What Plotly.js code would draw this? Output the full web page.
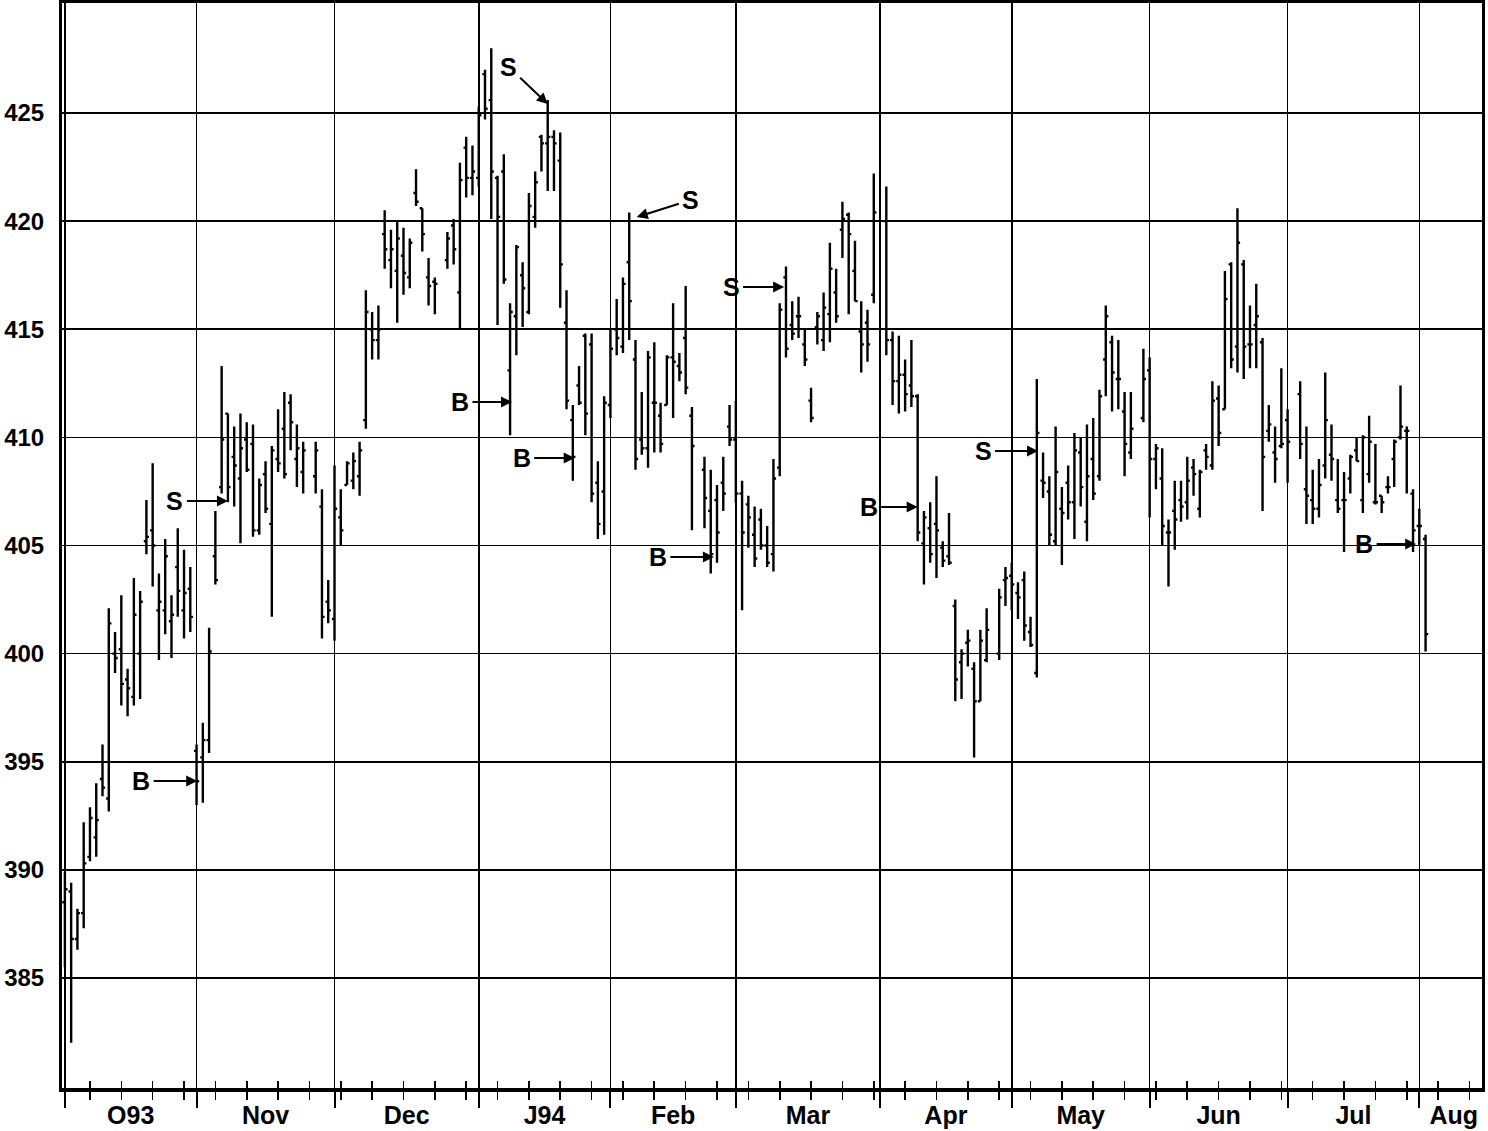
<!DOCTYPE html>
<html>
<head>
<meta charset="utf-8">
<script src="https://cdn.plot.ly/plotly-3.0.1.min.js"></script>
<style>html,body{margin:0;padding:0;background:#fff;}#chart{width:1488px;height:1131px;}</style>
</head>
<body>
<div id="chart"></div>
<script>
// Daily bars, one slot per weekday starting Fri 1 Oct 1993 (null = market closed)
const open = [
  388.5,389.0,386.8,388.0,390.6,391.5,394.2,393.3,400.0,400.2,398.8,398.0,400.0,405.2,405.7,402.0,402.0,401.5,404.0,402.0,403.0,
  395.5,395.2,396.0,404.5,407.7,411.1,409.1,408.1,409.9,409.7,405.7,408.3,406.0,409.0,410.4,411.6,409.0,408.4,null,408.2,406.8,402.4,
  401.6,406.3,407.8,408.0,408.2,410.8,415.0,414.5,419.4,418.2,417.7,418.4,417.4,421.3,420.6,417.4,417.2,null,418.2,419.8,416.7,423.4,422.0,
  422.0,426.8,425.6,422.0,422.3,413.1,415.6,417.5,415.8,420.2,423.9,423.6,423.9,422.8,415.3,410.8,412.4,414.7,414.3,407.9,407.5,
  411.5,415.0,414.2,418.1,413.6,409.9,409.5,411.6,411.0,411.5,413.7,413.3,414.6,411.0,null,408.5,406.6,407.1,407.9,410.5,
  409.9,407.4,406.9,405.5,406.2,405.0,404.6,408.6,417.4,415.2,415.6,414.3,411.7,415.1,414.5,415.7,416.7,419.6,420.3,417.7,414.9,415.3,416.6,
  null,420.0,414.5,412.6,412.9,412.4,411.9,405.1,405.8,406.0,404.9,404.5,402.2,399.6,400.5,399.3,397.8,399.7,null,400.0,403.4,
  403.6,402.8,403.4,401.0,399.1,408.0,407.5,405.2,406.7,407.9,407.0,409.3,406.1,409.0,408.2,413.6,414.4,412.7,411.2,409.3,null,410.9,
  413.1,409.0,408.1,405.6,406.6,407.1,407.0,408.6,406.7,409.4,408.7,411.8,411.3,418.0,414.2,418.0,414.3,415.2,414.4,410.3,409.3,409.6,
  410.8,null,412.0,407.6,407.1,406.7,408.7,409.2,407.1,407.1,408.1,409.4,407.1,408.3,407.0,407.3,407.7,409.0,410.0,410.3,407.4,
  405.9,405.3
];
const high = [
  389.9,389.4,388.2,392.2,392.9,394.0,395.8,402.1,401.0,402.7,399.3,403.5,402.9,407.1,408.8,403.7,405.3,402.7,405.8,404.8,404.0,
  395.8,396.8,401.2,406.6,413.3,411.1,410.5,411.1,410.7,410.6,408.1,408.9,409.6,411.3,412.1,412.0,410.6,409.8,null,409.8,407.6,403.4,
  408.7,407.6,408.9,409.3,409.8,416.8,415.8,416.1,420.5,419.6,420.0,419.7,419.2,422.4,420.6,418.3,417.4,null,419.5,420.1,422.7,423.9,423.5,
  425.3,427.0,428.0,422.1,423.1,416.2,418.9,418.1,421.3,422.3,424.0,425.6,424.2,424.1,416.8,411.5,413.3,414.8,414.8,408.9,411.9,
  415.0,416.4,417.4,420.4,414.5,412.1,414.0,414.4,411.6,413.8,416.2,413.9,417.0,411.4,null,409.1,408.5,407.8,409.1,411.5,
  411.7,408.0,407.3,406.8,406.7,405.9,409.0,416.2,417.9,416.3,416.5,415.0,412.3,415.8,416.7,419.0,417.8,420.9,420.4,419.1,416.3,415.9,422.2,
  null,421.6,414.9,414.7,413.6,414.5,412.0,406.6,407.0,408.2,405.2,406.5,402.5,400.2,401.1,399.6,401.1,402.1,null,403.0,404.0,
  404.2,403.3,403.8,401.7,412.7,409.3,408.2,410.5,407.7,408.7,410.2,410.0,410.6,410.9,412.2,416.1,414.7,414.5,412.1,412.1,null,414.1,
  413.7,409.7,409.5,406.2,408.0,408.0,409.1,409.0,408.5,409.7,412.6,412.4,417.7,418.1,420.6,418.2,416.1,417.1,414.6,411.5,410.5,413.2,
  411.3,null,412.6,410.5,408.5,409.0,413.0,410.6,409.0,408.4,409.2,410.0,410.1,411.0,409.7,407.3,408.2,409.9,412.4,410.5,407.6,
  406.7,405.5
];
const low = [
  385.5,382.0,386.3,387.3,390.4,390.6,393.4,392.7,399.1,397.6,397.1,397.6,397.9,404.6,403.1,399.7,400.9,399.8,401.7,400.7,401.0,
  393.0,393.1,395.4,403.2,407.4,407.0,406.8,405.1,408.4,405.4,405.5,406.5,401.7,408.4,408.1,409.4,407.7,407.4,null,407.4,400.7,401.4,
  400.6,405.0,407.8,407.6,407.3,410.4,413.6,413.6,417.8,416.9,415.3,416.6,416.9,420.7,418.6,416.1,415.7,null,417.8,418.0,415.0,421.1,421.2,
  421.6,424.7,420.1,415.2,417.1,410.1,413.8,415.1,415.7,419.7,422.3,421.4,421.4,416.0,411.3,408.0,411.5,410.1,407.0,405.3,405.5,
  410.9,413.8,413.9,414.5,408.5,409.2,408.6,409.3,409.3,411.5,410.9,412.6,412.0,405.7,null,405.8,403.7,404.2,406.6,409.6,
  407.0,402.0,404.9,404.0,404.8,404.0,403.8,408.2,413.7,414.5,414.6,413.3,410.7,414.3,414.0,414.4,415.3,418.3,415.7,416.3,413.0,413.5,416.2,
  null,413.8,411.5,411.1,411.2,411.4,405.2,403.2,404.2,403.5,404.0,404.1,397.8,397.9,399.4,395.2,397.8,399.6,null,399.7,402.2,
  402.0,401.6,400.6,400.3,398.9,407.2,405.0,405.0,404.1,406.2,405.3,406.8,405.2,407.1,408.0,411.9,411.2,411.3,408.2,409.0,null,410.7,
  406.3,407.6,405.0,403.1,404.8,406.1,406.2,407.3,406.3,408.5,408.5,409.6,411.3,413.2,413.0,412.7,413.2,413.2,406.6,409.8,407.9,409.5,
  407.9,null,409.0,406.0,406.0,406.3,408.1,408.0,406.5,404.7,407.4,408.9,406.5,407.9,406.9,406.5,407.4,407.7,409.9,407.4,404.7,
  405.0,400.1
];
const close = [
  389.1,386.8,388.0,390.3,392.4,392.3,393.8,401.4,399.8,398.6,398.4,401.8,402.4,405.4,405.0,402.4,404.5,401.8,402.9,402.8,401.7,
  394.1,396.0,400.1,403.4,409.9,407.7,408.7,409.5,408.5,405.7,407.8,406.7,409.4,408.8,408.3,410.7,409.5,409.4,null,409.4,401.7,402.0,
  406.7,405.7,408.8,408.9,409.4,415.8,414.5,415.0,418.7,418.7,419.2,417.6,419.0,420.9,419.4,417.0,417.1,null,419.2,418.7,421.9,422.0,422.3,
  424.9,425.2,422.3,420.2,417.3,415.8,418.8,416.9,420.7,421.8,423.6,423.9,423.6,418.0,411.7,409.1,411.6,411.1,407.4,406.0,411.6,
  414.1,414.6,417.1,416.3,409.0,409.5,413.7,411.6,409.7,413.7,413.5,413.0,412.3,409.6,null,407.2,404.6,405.6,407.4,409.9,
  407.4,405.6,406.3,404.4,405.0,404.2,408.1,415.9,414.1,414.8,415.6,413.6,410.9,415.6,416.0,417.8,415.6,420.1,419.4,416.3,414.3,414.3,420.4,
  null,414.5,412.6,412.9,412.0,411.9,405.6,406.3,404.6,405.7,404.3,404.2,398.8,400.0,400.6,397.8,400.6,401.1,null,402.6,403.5,
  403.2,402.6,401.3,400.4,410.2,407.9,405.5,408.4,406.5,407.0,409.4,407.7,408.2,407.4,411.9,415.6,413.0,412.7,409.7,410.4,null,412.7,
  409.0,409.5,405.9,405.6,406.2,406.8,408.0,408.3,408.4,409.1,411.7,410.2,416.4,413.6,419.0,414.2,414.3,415.6,409.1,410.6,409.0,409.7,
  409.8,null,409.7,407.3,406.7,407.8,410.8,409.0,406.7,407.1,409.1,408.9,410.0,409.8,407.0,407.0,407.7,409.8,410.5,410.3,405.7,
  405.9,400.9
];

// Month start slots and labels
const monthStart = [0, 21, 43, 66, 87, 107, 130, 151, 173, 195, 216];
const monthLabels = ['O93', 'Nov', 'Dec', 'J94', 'Feb', 'Mar', 'Apr', 'May', 'Jun', 'Jul', 'Aug'];
const yTicks = [385, 390, 395, 400, 405, 410, 415, 420, 425];

// Buy / sell signals (slot, price)
const sigType  = ['S', 'B', 'S', 'B', 'B', 'S', 'B', 'S', 'B', 'S', 'B'];
const sigSlot  = [26.0, 21.1, 77.0, 71.3, 81.3, 91.2, 103.5, 114.7, 136.0, 155.2, 215.5];
const sigPrice = [407.06, 394.11, 425.42, 411.64, 409.05, 420.19, 404.47, 416.95, 406.78, 409.37, 405.07];

// ---- build ----
const xs = [], os = [], hs = [], ls = [], cs = [];
for (let i = 0; i < open.length; i++) {
  if (open[i] === null) continue;
  xs.push(i); os.push(open[i]); hs.push(high[i]); ls.push(low[i]); cs.push(close[i]);
}
const X_RANGE = [-0.46, 226.0];
const Y_RANGE = [379.91, 430.09];
const weekly = [];
for (let w = 4; w <= 225; w += 5) weekly.push(w);
const monthEnd = monthStart.slice(1).concat([227]);
const monthMid = monthStart.map((s, i) => (s + monthEnd[i]) / 2);

const FONT = {family: 'Liberation Sans, Arial, sans-serif', size: 25, color: '#000', weight: 'bold'};
const YFONT = {family: 'Liberation Sans, Arial, sans-serif', size: 24, color: '#000', weight: 'bold'};

const traces = [
  {
    type: 'ohlc', x: xs, open: os, high: hs, low: ls, close: cs,
    xaxis: 'x', yaxis: 'y',
    increasing: {line: {color: '#000', width: 2.4}},
    decreasing: {line: {color: '#000', width: 2.4}},
    tickwidth: 0.42, hoverinfo: 'skip', showlegend: false
  },
  {type: 'scatter', x: [monthMid[0]], y: [null], xaxis: 'x2', yaxis: 'y', mode: 'markers', showlegend: false, hoverinfo: 'skip'},
  {type: 'scatter', x: [monthMid[0]], y: [null], xaxis: 'x3', yaxis: 'y', mode: 'markers', showlegend: false, hoverinfo: 'skip'}
];

// label offsets (pixels from arrow tip to letter)
const offs = [[-53,0],[-56,0],[-39,-37],[-52,0],[-53,0],[54,-17],[-56,0],[-53,0],[-49,0],[-55,0],[-52,0]];
const annotations = sigType.map((t, i) => ({
  x: sigSlot[i], y: sigPrice[i], xref: 'x', yref: 'y', text: t,
  showarrow: true, arrowhead: 2, arrowsize: 1.1, arrowwidth: 2, arrowcolor: '#000',
  ax: offs[i][0], ay: offs[i][1], standoff: 0, startstandoff: 2,
  font: FONT
}));

const layout = {
  width: 1488, height: 1131,
  margin: {l: 62, r: 6, t: 3, b: 43},
  paper_bgcolor: '#fff', plot_bgcolor: '#fff',
  showlegend: false,
  font: FONT,
  xaxis: {
    range: X_RANGE, fixedrange: true,
    tickmode: 'array', tickvals: monthStart, showticklabels: false,
    ticks: 'outside', ticklen: 16, tickwidth: 2, tickcolor: '#000',
    showgrid: true, gridcolor: '#000', gridwidth: 1.6,
    showline: true, linecolor: '#000', linewidth: 3.5, mirror: true,
    zeroline: false,
    rangeslider: {visible: false},
    minor: {tickmode: 'array', tickvals: weekly, ticks: 'outside', ticklen: 8, tickwidth: 1.6, tickcolor: '#000', showgrid: false}
  },
  xaxis2: {
    overlaying: 'x', anchor: 'y', side: 'bottom', range: X_RANGE, fixedrange: true,
    tickmode: 'array', tickvals: weekly, showticklabels: false,
    ticks: 'inside', ticklen: 7, tickwidth: 1.6, tickcolor: '#000',
    showgrid: false, showline: false, zeroline: false
  },
  xaxis3: {
    overlaying: 'x', anchor: 'y', side: 'bottom', range: X_RANGE, fixedrange: true,
    tickmode: 'array', tickvals: monthMid, ticktext: monthLabels,
    ticks: '', tickfont: FONT, ticklabelstandoff: 10,
    showgrid: false, showline: false, zeroline: false
  },
  yaxis: {
    range: Y_RANGE, fixedrange: true,
    tickmode: 'array', tickvals: yTicks, ticktext: yTicks.map(String),
    ticks: '', tickfont: YFONT, ticklabelstandoff: 10,
    showgrid: true, gridcolor: '#000', gridwidth: 1.6,
    showline: true, linecolor: '#000', linewidth: 3, mirror: true,
    zeroline: false
  },
  annotations: annotations
};

Plotly.newPlot('chart', traces, layout, {staticPlot: true, displayModeBar: false});
</script>
</body>
</html>
